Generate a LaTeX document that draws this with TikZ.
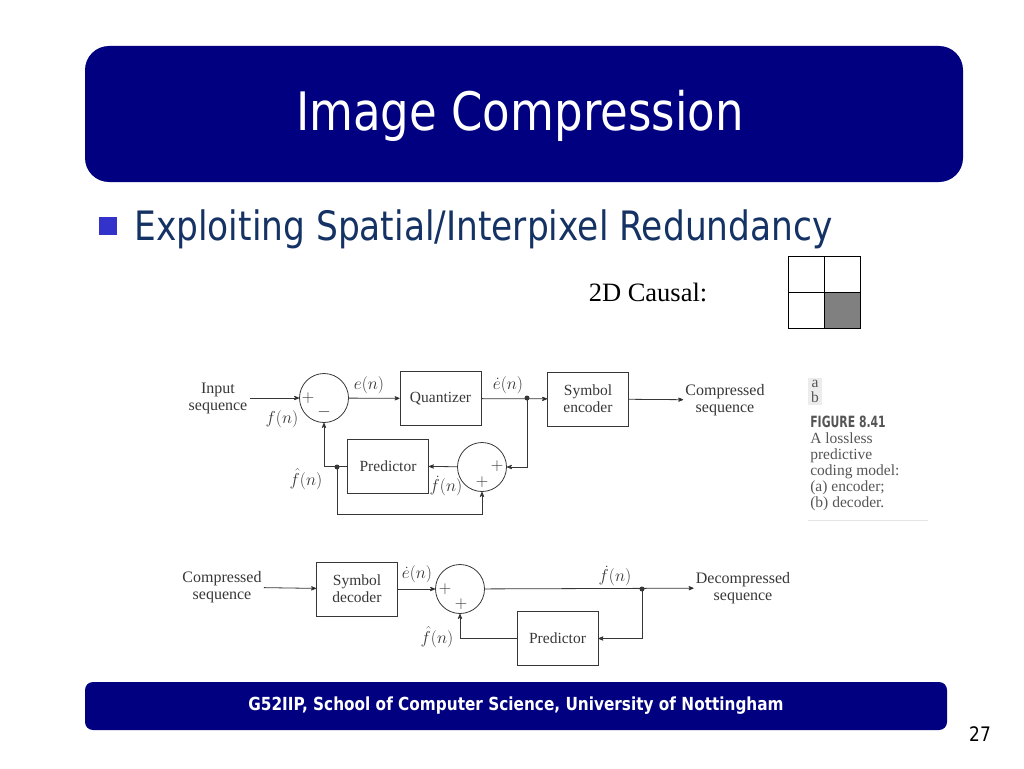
\documentclass[tikz,border=0pt]{standalone}
\usepackage{amsmath}
\usepackage{fontspec}
\setmainfont{Liberation Serif}
\newfontfamily\tahoma[FakeStretch=0.85]{DejaVu Sans}
\newfontfamily\figfont[FakeStretch=0.7]{DejaVu Sans}
\usepackage{tikz}
\usetikzlibrary{arrows,positioning}
\definecolor{navy}{RGB}{0,0,128}
\definecolor{subblue}{RGB}{20,50,100}
\definecolor{bulletblue}{RGB}{51,51,204}
\definecolor{ink}{RGB}{55,55,55}
\definecolor{capgray}{RGB}{85,85,85}

\begin{document}
\begin{tikzpicture}[x=1pt,y=-1pt,>=stealth',semithick]
\tikzstyle{block}=[draw=ink,line width=0.8pt,minimum width=81pt,minimum height=54pt,
                   align=center,text=ink,font=\fontsize{15.5}{17}\selectfont]
\tikzstyle{sum}=[draw=ink,line width=0.8pt,circle,minimum size=49pt,inner sep=0pt]
\tikzstyle{lbl}=[text=ink,align=center,inner sep=0pt,font=\fontsize{16}{17}\selectfont]
\tikzstyle{sgn}=[text=ink,inner sep=0pt,font=\fontsize{16}{16}\selectfont]
\tikzstyle{junc}=[circle,fill=ink,inner sep=0pt,minimum size=5pt]
\tikzstyle{flow}=[->,draw=ink,line width=0.8pt]
\useasboundingbox (0,0) rectangle (1024,768);

\fill[navy,rounded corners=24pt] (85,46) rectangle (963,182);
\node[text=white,font=\tahoma\fontsize{53}{60}\selectfont] (title) at (520,116) {Image Compression};
\fill[bulletblue] (99,217) rectangle (117,235);
\node[anchor=base west,inner sep=0pt,text=subblue,font=\tahoma\fontsize{40.5}{44}\selectfont]
  (topic) at (134,240) {Exploiting Spatial/Interpixel Redundancy};

\node[font=\fontsize{26.5}{30}\selectfont] (causal) at (648,292) {2D Causal:};
\fill[gray] (824,292) rectangle (860,328);
\draw[line width=1pt] (788,256) rectangle (860,328) (824,256) -- (824,328) (788,292) -- (860,292);

\node[lbl,inner sep=2pt] (in) at (218,398) {Input\\sequence};
\node[sum] (s1) at (324,398) {};
\node[block] (quant) at (440.5,398.5) {Quantizer};
\node[block] (enc) at (588,399) {Symbol\\encoder};
\node[lbl,inner sep=2pt] (out) at (725,400) {Compressed\\sequence};
\node[junc] (d1) at (527,398) {};
\node[sum] (s2) at (482,467) {};
\node[block] (pred1) at (388,466) {Predictor};
\node[junc] (d2) at (337,467) {};
\coordinate (low) at (337,514);
\node[sgn] at (308,398) {$+$};
\node[sgn] at (324,412) {$-$};
\node[sgn] at (497,466) {$+$};
\node[sgn] at (482,482) {$+$};
\node[lbl] (en) at (369,385) {$e(n)$};
\node[lbl] (edn) at (508,385) {$\dot{e}(n)$};
\node[lbl] (fn) at (282,419) {$f(n)$};
\node[lbl] (fhn) at (306,479) {$\hat{f}(n)$};
\node[lbl] (fdn) at (446,486) {$\dot{f}(n)$};
\path[flow] (in) edge (s1)
            (s1) edge (quant)
            (quant) edge (enc)
            (enc) edge (out)
            (s2) edge (pred1);
\draw[flow] (d1.center) |- (s2);
\draw[flow] (pred1.west) -| (s1.south);
\draw[flow] (d2.center) -- (low) -| (s2.south);

\node[lbl,inner sep=2pt] (cin) at (222,587) {Compressed\\sequence};
\node[block] (dec) at (357,589) {Symbol\\decoder};
\node[sum] (s3) at (460,589) {};
\node[junc] (d3) at (642,589) {};
\node[lbl,inner sep=2pt] (dout) at (743,588) {Decompressed\\sequence};
\node[block] (pred2) at (557.5,638.5) {Predictor};
\node[sgn] at (445,589) {$+$};
\node[sgn] at (461,604) {$+$};
\node[lbl] (edn2) at (417,574) {$\dot{e}(n)$};
\node[lbl] (fdn2) at (615,576) {$\dot{f}(n)$};
\node[lbl] (fhn2) at (437,637) {$\hat{f}(n)$};
\path[flow] (cin) edge (dec)
            (dec) edge (s3)
            (s3) edge (dout);
\draw[flow] (d3.center) |- (pred2);
\draw[flow] (pred2) -| (s3.south);

\fill[gray!15] (808,378) rectangle (822,405);
\node[text=capgray,inner sep=0pt,font=\fontsize{15.5}{15}\selectfont,align=center]
  (ab) at (815,391.5) {a\\b};
\node[anchor=north west,inner sep=0pt,align=left,text=capgray,font=\fontsize{15.5}{16}\selectfont]
  (cap) at (810,416) {{\figfont\bfseries FIGURE 8.41}\\A lossless\\predictive\\coding model:\\(a) encoder;\\(b) decoder.};
\draw[gray!20,line width=1pt] (808,520) -- (928,520);

\fill[navy,rounded corners=8pt] (85,682) rectangle (947,730);
\node[text=white,font=\tahoma\bfseries\fontsize{18}{20}\selectfont] (foot) at (516,706)
  {G52IIP, School of Computer Science, University of Nottingham};
\node[font=\tahoma\fontsize{20}{22}\selectfont] (page) at (980,734) {27};
\end{tikzpicture}
\end{document}
